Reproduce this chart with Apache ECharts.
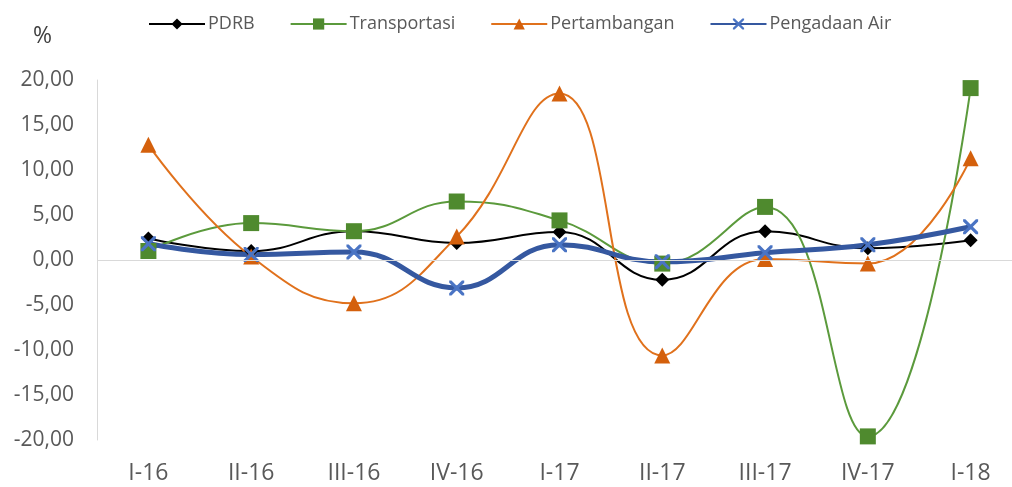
<!DOCTYPE html>
<html>
<head>
<meta charset="utf-8">
<script src="https://cdn.jsdelivr.net/npm/echarts@6/dist/echarts.min.js"></script>
<style>html,body{margin:0;padding:0;background:#fff;}#c{width:1012px;height:487px;}</style>
</head>
<body>
<div id="c"></div>
<script>
var categories = ['I-16','II-16','III-16','IV-16','I-17','II-17','III-17','IV-17','I-18'];
var pdrb = [2.4, 1.0, 3.2, 1.9, 3.1, -2.2, 3.2, 1.3, 2.2];
var transportasi = [1.0, 4.1, 3.2, 6.5, 4.4, -0.4, 5.9, -19.6, 19.1];
var pertambangan = [12.8, 0.4, -4.8, 2.6, 18.5, -10.6, 0.1, -0.4, 11.3];
var pengadaanAir = [1.8, 0.6, 0.9, -3.1, 1.7, -0.2, 0.8, 1.7, 3.7];
var seriesNames = ['PDRB','Transportasi','Pertambangan','Pengadaan Air'];

var xSym = 'path://M0,0 L3,0 L10,7 L17,0 L20,0 L20,3 L13,10 L20,17 L20,20 L17,20 L10,13 L3,20 L0,20 L0,17 L7,10 L0,3 Z';
var font = '"Open Sans", "Liberation Sans", sans-serif';
var chart = echarts.init(document.getElementById('c'));
chart.setOption({
  animation: false,
  backgroundColor: '#fff',
  title: {
    text: '%', left: 28, top: 20,
    textStyle: {fontFamily: font, fontSize: 23, fontWeight: 'normal', color: '#404040'}
  },
  legend: {
    data: seriesNames, left: 143, top: 10, itemWidth: 56, itemHeight: 14, itemGap: 35,
    textStyle: {fontFamily: font, fontSize: 18, color: '#595959', padding: [0,0,0,-2]}
  },
  grid: {left: 97, width: 925, top: 80, bottom: 47, containLabel: false, outerBoundsMode: 'none'},
  xAxis: {
    type: 'category', data: categories, boundaryGap: true,
    axisLine: {show: false}, axisTick: {show: false},
    axisLabel: {fontFamily: font, fontSize: 23, color: '#595959', margin: 22}
  },
  yAxis: {
    type: 'value', min: -20, max: 20, interval: 5,
    axisLine: {show: true, lineStyle: {color: '#D9D9D9', width: 1}},
    axisTick: {show: false}, splitLine: {show: false},
    axisLabel: {fontFamily: font, fontSize: 21, color: '#595959', margin: 23,
      formatter: function (v) { return v.toFixed(2).replace('.', ','); }}
  },
  series: [
    {
      name: 'PDRB', type: 'line', data: pdrb, smooth: 0.45,
      symbol: 'diamond', symbolSize: 14,
      lineStyle: {color: '#000', width: 2}, itemStyle: {color: '#000'},
      markLine: {silent: true, symbol: 'none', label: {show: false},
        lineStyle: {color: '#D9D9D9', width: 1, type: 'solid'}, data: [{yAxis: 0}]}
    },
    {
      name: 'Transportasi', type: 'line', data: transportasi, smooth: 0.45,
      symbol: 'rect', symbolSize: 16,
      lineStyle: {color: '#5B9A3C', width: 2}, itemStyle: {color: '#4F8A2E'}
    },
    {
      name: 'Pertambangan', type: 'line', data: pertambangan, smooth: 0.45,
      symbol: 'triangle', symbolSize: 16,
      lineStyle: {color: '#E0711C', width: 2}, itemStyle: {color: '#D4600C'}
    },
    {
      name: 'Pengadaan Air', type: 'line', data: pengadaanAir, smooth: 0.45,
      symbol: xSym, symbolSize: 15,
      lineStyle: {color: '#3558A0', width: 5}, itemStyle: {color: '#4A74C4'}
    }
  ]
});
</script>
</body>
</html>
